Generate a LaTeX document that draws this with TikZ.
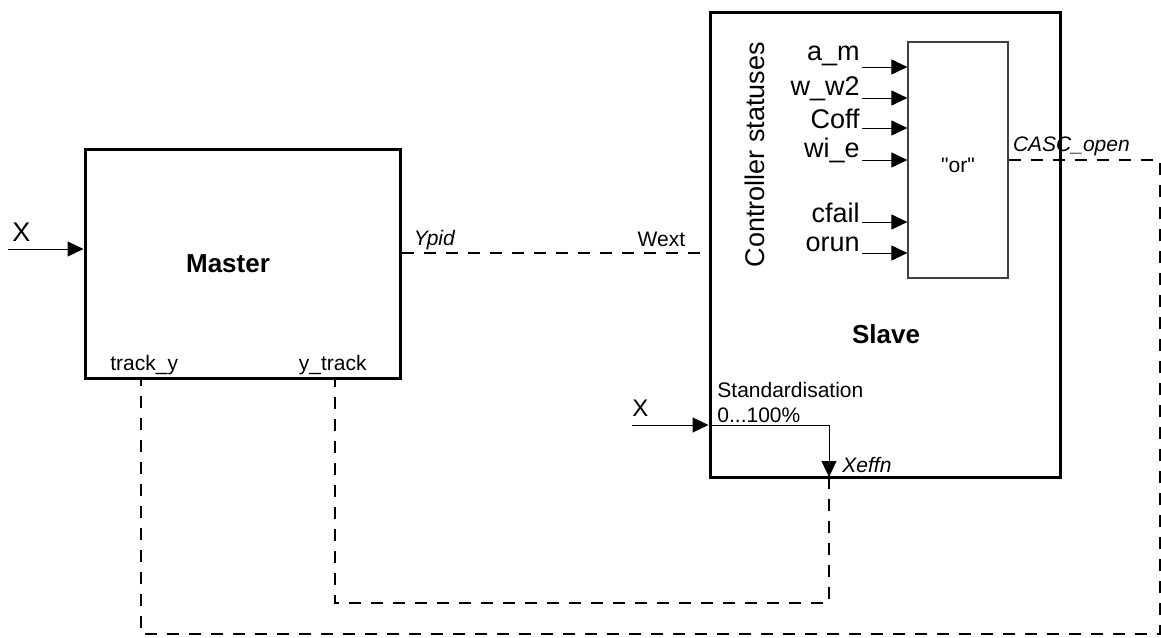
\documentclass[tikz,border=0pt]{standalone}
\usepackage{fontspec}
\setmainfont{Liberation Sans}
\usepackage{tikz}
\usetikzlibrary{arrows.meta,positioning}
\newcommand{\smallsz}{\fontsize{10.5}{12}\selectfont}
\newcommand{\bigsz}{\fontsize{13.5}{15}\selectfont}

\begin{document}
\begin{tikzpicture}[x=0.5pt,y=-0.5pt,
    block/.style={draw,line width=1.5pt,inner sep=0pt},
    orblock/.style={draw=black!75,line width=0.6pt,inner sep=0pt,
                minimum width=50pt,minimum height=118pt,font=\smallsz},
    sig/.style={-{Triangle[length=8pt,width=7.5pt]},line width=0.5pt},
    feed/.style={line width=1pt,dash pattern=on 6pt off 5pt},
    title/.style={font=\fontsize{13}{15}\selectfont\bfseries},
    inlbl/.style={font=\bigsz,inner sep=0pt,anchor=base east},
    lbl/.style={font=\smallsz,inner sep=0pt}]

    \useasboundingbox (0,0) rectangle (1161,637);

    \node[block,minimum width=157.5pt,minimum height=114.5pt] (master)
      at (242.5,263.5) {};
    \node[block,minimum width=175pt,minimum height=232.5pt] (slave)
      at (885,244.5) {};
    \node[orblock] (orb) at (958,160) {};

    \node[title] (mtitle) at (228,264) {Master};
    \node[title] (stitle) at (886,334) {Slave};
    \node[lbl] (ortext) at (958,165) {\textquotedbl or\textquotedbl};
    \node[font=\bigsz,inner sep=0pt,rotate=90] (ctrl) at (755,154.5)
      {Controller statuses};

    \node[inlbl] (am) at (860,60) {a\_m};
    \node[inlbl] (ww) at (860,95) {w\_w2};
    \node[inlbl] (coff) at (860,128) {Coff};
    \node[inlbl] (wie) at (860,157) {wi\_e};
    \node[inlbl] (cfail) at (860,222) {cfail};
    \node[inlbl] (orun) at (860,251) {orun};

    \coordinate (inAm) at (862,67);
    \coordinate (inWw) at (862,98);
    \coordinate (inCoff) at (862,128);
    \coordinate (inWie) at (862,160);
    \coordinate (inCfail) at (862,222);
    \coordinate (inOrun) at (862,253);

    \draw[sig] (inAm) -- (inAm -| orb.west);
    \draw[sig] (inWw) -- (inWw -| orb.west);
    \draw[sig] (inCoff) -- (inCoff -| orb.west);
    \draw[sig] (inWie) -- (inWie -| orb.west);
    \draw[sig] (inCfail) -- (inCfail -| orb.west);
    \draw[sig] (inOrun) -- (inOrun -| orb.west);

    \coordinate (xM) at (8,249);
    \draw[sig] (xM) -- (xM -| master.west);
    \node[font=\bigsz,inner sep=0pt,above right=3.5pt and 2pt of xM] (xMl) {X};

    \coordinate (ypid) at (master.east |- 0,253);
    \coordinate (wext) at (slave.west |- 0,253);
    \draw[feed] (ypid) -- (wext);
    \node[lbl,font=\smallsz\itshape,above right=1.5pt and 6pt of ypid] (ypidl) {Ypid};
    \node[lbl,above left=3pt and 11.5pt of wext] (wextl) {Wext};

    \node[lbl,anchor=base west] (trky) at (110,370) {track\_y};
    \node[lbl,anchor=base east] (ytrk) at (367,370) {y\_track};

    \coordinate (xS) at (632,425);
    \coordinate (stdIn) at (xS -| slave.west);
    \coordinate (xeff) at (829,477);
    \draw[sig] (xS) -- (stdIn);
    \draw[sig] (stdIn) -| (xeff);
    \node[font=\fontsize{12}{14}\selectfont,inner sep=0pt,
      above right=4pt and 0pt of xS] (xSl) {X};
    \node[lbl,anchor=base west] (std) at (717,397) {Standardisation};
    \node[lbl,anchor=base west] (pct) at (717,422) {0...100\%};
    \node[lbl,font=\smallsz\itshape,anchor=base west] (xeffl) at (842,472) {Xeffn};

    \node[lbl,font=\smallsz\itshape,above right=2pt and 2pt of orb.east] (casc) {CASC\_open};

    \coordinate (tyIn) at (141,378);
    \coordinate (ytIn) at (335,378);
    \draw[feed] (orb.east) -| (1160,634) -| (tyIn);
    \draw[feed] (xeff) -- ++(0,126) -| (ytIn);
  \end{tikzpicture}
\end{document}
